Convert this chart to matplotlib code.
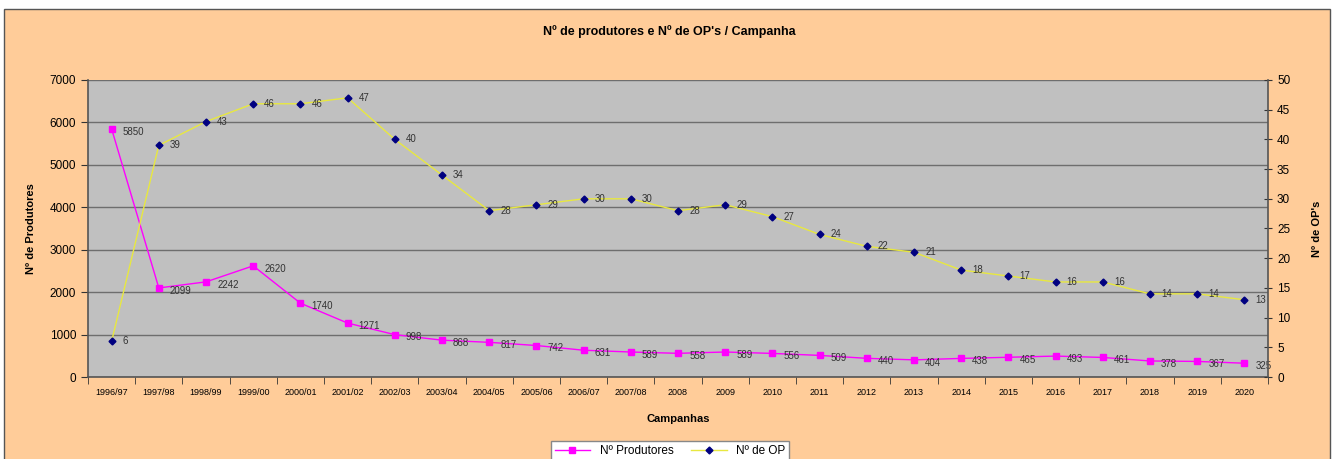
import matplotlib
matplotlib.use("Agg")
import matplotlib.pyplot as plt
from matplotlib.patches import Rectangle
from matplotlib.ticker import FixedLocator

plt.rcParams['font.family'] = ['Liberation Sans', 'DejaVu Sans']

categories = ["1996/97", "1997/98", "1998/99", "1999/00", "2000/01", "2001/02", "2002/03",
              "2003/04", "2004/05", "2005/06", "2006/07", "2007/08", "2008", "2009", "2010",
              "2011", "2012", "2013", "2014", "2015", "2016", "2017", "2018", "2019", "2020"]
produtores = [5850, 2099, 2242, 2620, 1740, 1271, 998, 868, 817, 742, 631, 589, 558, 589,
              556, 509, 440, 404, 438, 465, 493, 461, 378, 367, 325]
num_op = [6, 39, 43, 46, 46, 47, 40, 34, 28, 29, 30, 30, 28, 29, 27, 24, 22, 21, 18, 17,
          16, 16, 14, 14, 13]

W, H = 1338, 459
fig = plt.figure(figsize=(W / 100, H / 100), dpi=100)
fig.patch.set_facecolor('white')
fig.patches.append(Rectangle((4 / W, -0.05), (1330 - 4) / W, 1.05 - 9 / H,
                             transform=fig.transFigure, facecolor='#FFCC99',
                             edgecolor='#555555', linewidth=1.0, zorder=-10))

ax = fig.add_axes([88 / W, 1 - 377 / H, (1268 - 88) / W, (377 - 80) / H])
ax.set_facecolor('#C0C0C0')
x = list(range(len(categories)))

ax.set_xlim(-0.5, len(categories) - 0.5)
ax.set_ylim(0, 7000)
ax.set_yticks(range(0, 7001, 1000))
ax.yaxis.grid(True, color='#6E6E6E', linewidth=1.0)
ax.set_axisbelow(True)
ax.set_xticks(x)
ax.set_xticklabels(categories, fontsize=6.5)
ax.tick_params(axis='x', length=0, pad=8)
ax.xaxis.set_minor_locator(FixedLocator([i + 0.5 for i in range(-1, len(categories))]))
ax.tick_params(axis='x', which='minor', length=5, color='#333333', direction='out')
ax.tick_params(axis='y', labelsize=8.5, length=5, color='#333333')
for s in ['top', 'right']:
    ax.spines[s].set_visible(False)
for s in ['left', 'bottom']:
    ax.spines[s].set_color('#555555')
    ax.spines[s].set_linewidth(1.2)

l1, = ax.plot(x, produtores, color='#FF00FF', marker='s', markersize=5,
              markerfacecolor='#FF00FF', markeredgecolor='#FF00FF', linewidth=1.0,
              label='Nº Produtores', zorder=3)
for xi, v in zip(x, produtores):
    ax.annotate(str(v), (xi, v), xytext=(8, -2), textcoords='offset points',
                fontsize=7, color='#333333', va='center', ha='left', zorder=5)

ax2 = ax.twinx()
ax2.set_ylim(0, 50)
ax2.set_yticks(range(0, 51, 5))
ax2.tick_params(axis='y', labelsize=8.5, length=6, direction='inout', color='#333333')
for s in ['top', 'left', 'bottom']:
    ax2.spines[s].set_visible(False)
ax2.spines['right'].set_color('#555555')
ax2.spines['right'].set_linewidth(1.2)
l2, = ax2.plot(x, num_op, color='#E8E840', marker='D', markersize=3.5,
               markerfacecolor='#000080', markeredgecolor='#000080', linewidth=1.0,
               label='Nº de OP', zorder=3)
for xi, v in zip(x, num_op):
    ax2.annotate(str(v), (xi, v), xytext=(8, 0), textcoords='offset points',
                 fontsize=7, color='#333333', va='center', ha='left')

ax.set_ylabel('Nº de Produtores', fontsize=8, fontweight='bold', labelpad=10)
ax2.set_ylabel("Nº de OP's", fontsize=8, fontweight='bold', labelpad=16)
ax.set_xlabel('Campanhas', fontsize=8, fontweight='bold', labelpad=12)

fig.text(0.5, 1 - 32 / H, "Nº de produtores e Nº de OP's / Campanha", ha='center',
         va='center', fontsize=9, fontweight='bold')

leg = fig.legend(handles=[l1, l2], loc='center', bbox_to_anchor=(670 / W, 1 - 451 / H),
                 ncol=2, fontsize=8.5, frameon=True, fancybox=False, edgecolor='#888888',
                 handlelength=3, columnspacing=1.5, borderpad=0.3, framealpha=1)
leg.get_frame().set_facecolor('white')

fig.savefig('out.png', dpi=100, facecolor=fig.get_facecolor())
